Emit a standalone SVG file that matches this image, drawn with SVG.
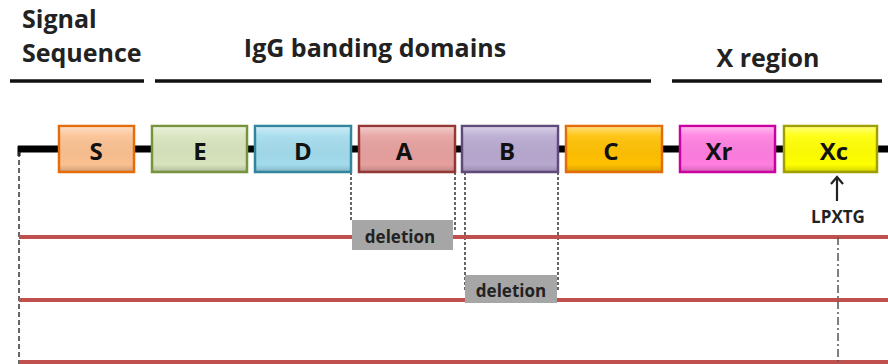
<svg xmlns="http://www.w3.org/2000/svg" width="888" height="364" viewBox="0 0 888 364">
<style>
.hdr{font-family:"Open Sans","Liberation Sans",sans-serif;font-weight:700;font-size:25px;fill:#222}
.bx{stroke-width:2.5}
.lbl{font-family:"Open Sans","Liberation Sans",sans-serif;font-weight:700;font-size:24px;fill:#111;text-anchor:middle;dominant-baseline:central}
.del{fill:#a6a6a6}
.dlbl{font-family:"Open Sans","Liberation Sans",sans-serif;font-weight:700;font-size:17px;fill:#222;text-anchor:middle;dominant-baseline:central}
.red{stroke:#c0504d;stroke-width:4}
.dash{stroke:#333;stroke-width:1.5;stroke-dasharray:5 3;fill:none}
.dot{stroke:#333;stroke-width:1.5;stroke-dasharray:3 2;fill:none}
.dd{stroke:#555;stroke-width:1.5;stroke-dasharray:8 3 2 3;fill:none}
.br{stroke:#111;stroke-width:3.5}
</style>
<defs>
<linearGradient id="sh" x1="0" y1="0" x2="0" y2="1">
<stop offset="0" stop-color="#fff" stop-opacity="0.45"/>
<stop offset="0.2" stop-color="#fff" stop-opacity="0.1"/>
<stop offset="0.85" stop-color="#000" stop-opacity="0"/>
<stop offset="1" stop-color="#000" stop-opacity="0.15"/>
</linearGradient>
</defs>
<g id="headers">
<text class="hdr" x="22" y="28">Signal</text>
<text class="hdr" x="22" y="62">Sequence</text>
<text class="hdr" x="375" y="57" text-anchor="middle">IgG banding domains</text>
<text class="hdr" x="768" y="67" text-anchor="middle">X region</text>
<line class="br" x1="10" y1="81" x2="144" y2="81"/>
<line class="br" x1="155" y1="81" x2="651" y2="81"/>
<line class="br" x1="672" y1="81" x2="882" y2="81"/>
</g>
<g id="connectors">
<line x1="18" y1="149" x2="888" y2="149" stroke="#000" stroke-width="7"/>
<line x1="19" y1="146" x2="19" y2="156" stroke="#000" stroke-width="3"/>
<line class="dash" x1="19" y1="152" x2="19" y2="364"/>
<line class="dot" x1="351" y1="172" x2="351" y2="222"/>
<line class="dot" x1="455" y1="172" x2="455" y2="230"/>
<line class="dot" x1="465" y1="172" x2="465" y2="290"/>
<line class="dot" x1="558" y1="172" x2="558" y2="290"/>
<line class="red" x1="19" y1="237" x2="888" y2="237"/>
<line class="red" x1="19" y1="300" x2="888" y2="300"/>
<line class="red" x1="19" y1="362" x2="888" y2="362"/>
<line class="dd" x1="838" y1="237" x2="838" y2="364"/>
<line x1="837" y1="201" x2="837" y2="177" stroke="#222" stroke-width="2.2"/>
<path d="M831,184 L837,177 L843,184" fill="none" stroke="#222" stroke-width="2.2"/>
</g>
<g id="S"><rect class="bx" x="59" y="126" width="75" height="46" fill="#fac090" stroke="#e46c0a"/><rect x="60" y="127" width="73" height="44" fill="url(#sh)"/><text class="lbl" x="96" y="150">S</text></g>
<g id="E"><rect class="bx" x="152" y="126" width="95" height="46" fill="#d7e4bd" stroke="#77933c"/><rect x="153" y="127" width="93" height="44" fill="url(#sh)"/><text class="lbl" x="200" y="150">E</text></g>
<g id="D"><rect class="bx" x="255" y="126" width="96" height="46" fill="#a2dbec" stroke="#31859c"/><rect x="256" y="127" width="94" height="44" fill="url(#sh)"/><text class="lbl" x="303" y="150">D</text></g>
<g id="A"><rect class="bx" x="359" y="126" width="96" height="46" fill="#e6a09e" stroke="#953735"/><rect x="360" y="127" width="94" height="44" fill="url(#sh)"/><text class="lbl" x="404" y="150">A</text></g>
<g id="B"><rect class="bx" x="462" y="126" width="96" height="46" fill="#b8a8d0" stroke="#604a7b"/><rect x="463" y="127" width="94" height="44" fill="url(#sh)"/><text class="lbl" x="507" y="150">B</text></g>
<g id="C"><rect class="bx" x="566" y="126" width="96" height="46" fill="#ffc000" stroke="#e46c0a"/><rect x="567" y="127" width="94" height="44" fill="url(#sh)"/><text class="lbl" x="611" y="150">C</text></g>
<g id="Xr"><rect class="bx" x="680" y="126" width="95" height="46" fill="#ff7de0" stroke="#cc00a0"/><rect x="681" y="127" width="93" height="44" fill="url(#sh)"/><text class="lbl" x="719" y="150">Xr</text></g>
<g id="Xc"><rect class="bx" x="784" y="126" width="93" height="46" fill="#ffff00" stroke="#a0a000"/><rect x="785" y="127" width="91" height="44" fill="url(#sh)"/><text class="lbl" x="834" y="150">Xc</text></g>
<g id="LPXTG"><text class="dlbl" x="838" y="216">LPXTG</text></g>
<g id="deletion1"><rect class="del" x="352" y="220" width="101" height="30"/><text class="dlbl" x="400" y="236">deletion</text></g>
<g id="deletion2"><rect class="del" x="465" y="275" width="92" height="28"/><text class="dlbl" x="511" y="290">deletion</text></g>
</svg>
